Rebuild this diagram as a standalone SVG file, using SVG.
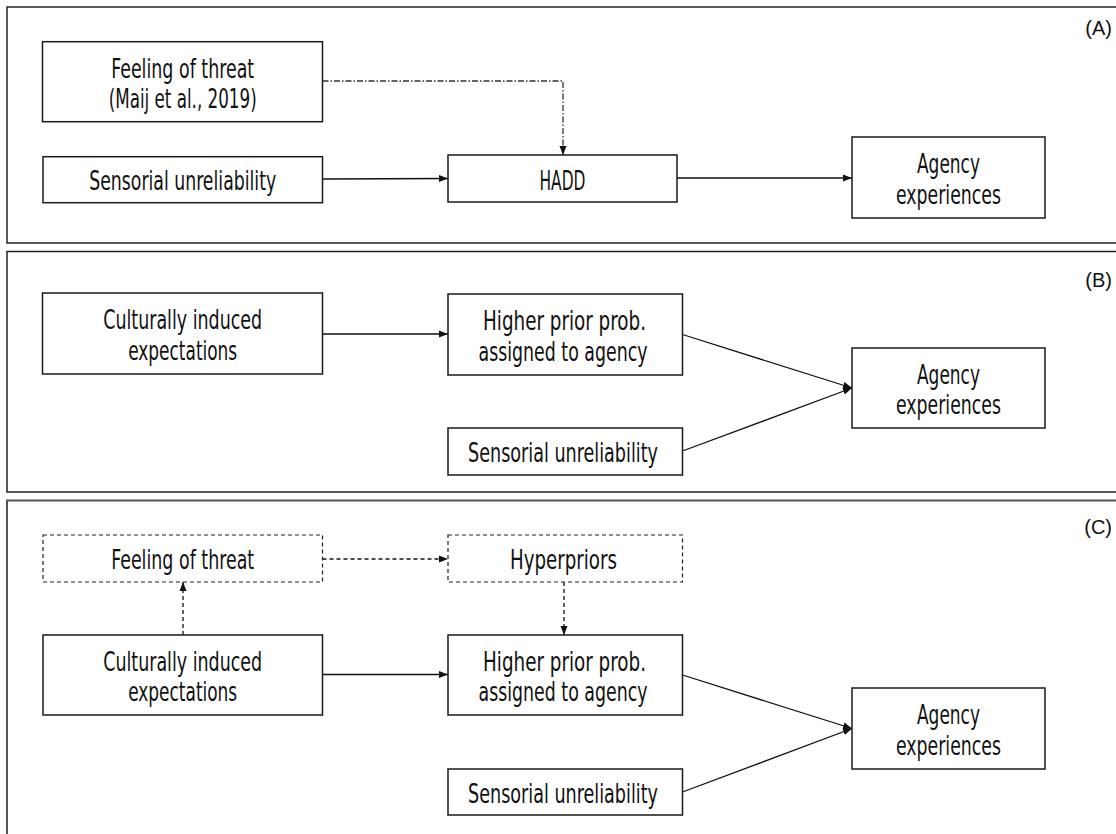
<svg xmlns="http://www.w3.org/2000/svg" width="1116" height="834" viewBox="0 0 1116 834">
<defs>
<style>
.panel{fill:none;stroke:#222;stroke-width:1.5}
.panelc{fill:none;stroke:#555;stroke-width:2}
.box{fill:#fff;stroke:#1a1a1a;stroke-width:1.5}
.dbox{fill:#fff;stroke:#222;stroke-width:1.2;stroke-dasharray:4 3}
.t{font-family:"DejaVu Sans Condensed","DejaVu Sans",sans-serif;font-stretch:condensed;font-size:27px;fill:#111;text-anchor:middle}
.lab{font-family:"Liberation Sans",Arial,sans-serif;font-size:20px;fill:#111;text-anchor:end}
.c{fill:none;stroke:#111;stroke-width:1.3}
.dash{stroke-dasharray:4 3}
.dashdot{stroke:#333;stroke-dasharray:6 2 1.5 2}
</style>
<marker id="ah" markerUnits="userSpaceOnUse" markerWidth="9" markerHeight="8" refX="9" refY="4" orient="auto">
<path d="M0,0.5 L9,4 L0,7.5 z" fill="#111"/>
</marker>
</defs>
<rect width="1116" height="834" fill="#fff"/>

<g id="panels">
<rect class="panel" x="7" y="7" width="1120" height="236"/>
<rect class="panel" x="7" y="251.5" width="1120" height="240.5"/>
<rect class="panelc" x="7" y="500.5" width="1120" height="345"/>
<text class="lab" x="1112" y="35">(A)</text>
<text class="lab" x="1112" y="287">(B)</text>
<text class="lab" x="1112" y="534">(C)</text>
</g>

<g id="connectors">
<path class="c dashdot" d="M322.5,81 H563 V155" marker-end="url(#ah)"/>
<path class="c" d="M322.5,179 L448,178.5" marker-end="url(#ah)"/>
<path class="c" d="M677,178 L852,178" marker-end="url(#ah)"/>

<path class="c" d="M322.5,334 L448,334" marker-end="url(#ah)"/>
<path class="c" d="M682.5,334.5 L852,388" marker-end="url(#ah)"/>
<path class="c" d="M682.5,451 L852,388" marker-end="url(#ah)"/>

<path class="c dash" d="M322.5,559 L448,559" marker-end="url(#ah)"/>
<path class="c dash" d="M183,635 L183,582" marker-end="url(#ah)"/>
<path class="c dash" d="M564,582 L564,635" marker-end="url(#ah)"/>
<path class="c" d="M322.5,674.5 L448,674.5" marker-end="url(#ah)"/>
<path class="c" d="M682.5,675 L852,728.5" marker-end="url(#ah)"/>
<path class="c" d="M682.5,792 L852,728.5" marker-end="url(#ah)"/>
</g>

<g id="a-threat">
<rect class="box" x="42.5" y="41.7" width="280" height="80"/>
<text class="t" x="182.7" y="77.5" textLength="143" lengthAdjust="spacingAndGlyphs">Feeling of threat</text>
<text class="t" x="182.7" y="107.5" textLength="148" lengthAdjust="spacingAndGlyphs">(Maij et al., 2019)</text>
</g>
<g id="a-sensorial">
<rect class="box" x="43" y="156.7" width="279.5" height="46"/>
<text class="t" x="182.7" y="190" textLength="187" lengthAdjust="spacingAndGlyphs">Sensorial unreliability</text>
</g>
<g id="a-hadd">
<rect class="box" x="448" y="155" width="229" height="47"/>
<text class="t" x="562.5" y="189.5" textLength="46" lengthAdjust="spacingAndGlyphs">HADD</text>
</g>
<g id="a-agency">
<rect class="box" x="852" y="137" width="193" height="81"/>
<text class="t" x="948.5" y="173" textLength="63" lengthAdjust="spacingAndGlyphs">Agency</text>
<text class="t" x="948.5" y="203.5" textLength="105" lengthAdjust="spacingAndGlyphs">experiences</text>
</g>

<g id="b-cultural">
<rect class="box" x="42.5" y="293" width="280" height="81"/>
<text class="t" x="182.7" y="329" textLength="159" lengthAdjust="spacingAndGlyphs">Culturally induced</text>
<text class="t" x="182.7" y="359.5" textLength="109" lengthAdjust="spacingAndGlyphs">expectations</text>
</g>
<g id="b-higher">
<rect class="box" x="448" y="294" width="234.5" height="81"/>
<text class="t" x="564.5" y="330" textLength="163" lengthAdjust="spacingAndGlyphs">Higher prior prob.</text>
<text class="t" x="563" y="360.5" textLength="169" lengthAdjust="spacingAndGlyphs">assigned to agency</text>
</g>
<g id="b-sensorial">
<rect class="box" x="448" y="428" width="234.5" height="47"/>
<text class="t" x="563" y="462" textLength="190" lengthAdjust="spacingAndGlyphs">Sensorial unreliability</text>
</g>
<g id="b-agency">
<rect class="box" x="852" y="348" width="193" height="80"/>
<text class="t" x="948.5" y="383.5" textLength="63" lengthAdjust="spacingAndGlyphs">Agency</text>
<text class="t" x="948.5" y="414" textLength="105" lengthAdjust="spacingAndGlyphs">experiences</text>
</g>

<g id="c-threat">
<rect class="dbox" x="43" y="535" width="279.5" height="47"/>
<text class="t" x="182.7" y="569" textLength="143" lengthAdjust="spacingAndGlyphs">Feeling of threat</text>
</g>
<g id="c-hyperpriors">
<rect class="dbox" x="448" y="535" width="234.5" height="47"/>
<text class="t" x="563.5" y="569" textLength="107" lengthAdjust="spacingAndGlyphs">Hyperpriors</text>
</g>
<g id="c-cultural">
<rect class="box" x="43" y="635" width="279.5" height="80"/>
<text class="t" x="182.7" y="670.5" textLength="159" lengthAdjust="spacingAndGlyphs">Culturally induced</text>
<text class="t" x="182.7" y="701" textLength="109" lengthAdjust="spacingAndGlyphs">expectations</text>
</g>
<g id="c-higher">
<rect class="box" x="448" y="635" width="234.5" height="80"/>
<text class="t" x="564.5" y="670.5" textLength="163" lengthAdjust="spacingAndGlyphs">Higher prior prob.</text>
<text class="t" x="563" y="701" textLength="169" lengthAdjust="spacingAndGlyphs">assigned to agency</text>
</g>
<g id="c-sensorial">
<rect class="box" x="448" y="769" width="234.5" height="46"/>
<text class="t" x="563" y="802.5" textLength="190" lengthAdjust="spacingAndGlyphs">Sensorial unreliability</text>
</g>
<g id="c-agency">
<rect class="box" x="852" y="688" width="193" height="81"/>
<text class="t" x="948.5" y="724" textLength="63" lengthAdjust="spacingAndGlyphs">Agency</text>
<text class="t" x="948.5" y="754.5" textLength="105" lengthAdjust="spacingAndGlyphs">experiences</text>
</g>
</svg>
